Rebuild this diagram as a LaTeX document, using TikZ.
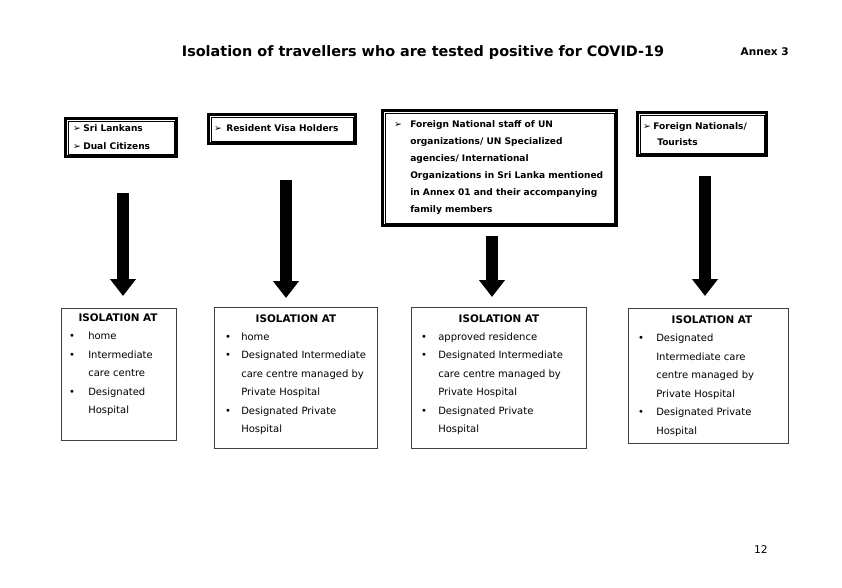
\documentclass[tikz,border=0pt]{standalone}
\usepackage{fontspec}
\setmainfont{DejaVu Sans}
\usetikzlibrary{fit,arrows.meta}
\begin{document}
\begin{tikzpicture}[x=0.75pt,y=-0.75pt,
  ttl/.style={inner sep=0pt,anchor=base,font=\bfseries\fontsize{10.8}{13}\selectfont},
  anx/.style={inner sep=0pt,anchor=base east,font=\bfseries\fontsize{7.9}{10}\selectfont},
  pg/.style={inner sep=0pt,anchor=base east,font=\fontsize{8}{10}\selectfont},
  topbox/.style={draw,line width=2.2pt,inner sep=0pt},
  innerframe/.style={draw,line width=0.6pt},
  botbox/.style={draw=black!75,line width=0.7pt,inner sep=0pt},
  btxt/.style={inner sep=0pt,anchor=base west,font=\bfseries\fontsize{6.8}{8}\selectfont},
  arw/.style={inner sep=0pt,anchor=base,font=\fontsize{7}{8}\selectfont},
  bttl/.style={inner sep=0pt,anchor=base,font=\bfseries\fontsize{7.8}{9}\selectfont},
  txt/.style={inner sep=0pt,anchor=base west,font=\fontsize{7.5}{9}\selectfont},
  dot/.style={inner sep=0pt,anchor=base,font=\fontsize{7.5}{9}\selectfont},
  bigarrow/.style={line width=9pt,-{Triangle[length=12.75pt,width=18.75pt]}}
]
\useasboundingbox (0,0) rectangle (842,588);
\fill[white] (0,0) rectangle (842,588);

\node[ttl] (title) at (423,57) {Isolation of travellers who are tested positive for COVID-19};
\node[anx] (annex) at (789,56) {Annex 3};
\node[pg] (page) at (768,553) {12};

% top boxes
\node[topbox,fit={(65.5,118.5) (176.5,156.5)}] (t1) {};
\draw[innerframe] ([shift={(4,4)}]t1.north west) rectangle ([shift={(-4,-4)}]t1.south east);
\node[topbox,fit={(208.5,114.5) (355.5,143.5)}] (t2) {};
\draw[innerframe] ([shift={(4,4)}]t2.north west) rectangle ([shift={(-4,-4)}]t2.south east);
\node[topbox,fit={(382.5,110.5) (616.5,225.5)}] (t3) {};
\draw[innerframe] ([shift={(4,4)}]t3.north west) rectangle ([shift={(-4,-4)}]t3.south east);
\node[topbox,fit={(637.5,112.5) (766.5,155.5)}] (t4) {};
\draw[innerframe] ([shift={(4,4)}]t4.north west) rectangle ([shift={(-4,-4)}]t4.south east);

\node[arw] (t1b1) at (77,131.5) {➢};
\node[btxt] (t1l1) at (83,131.5) {Sri Lankans};
\node[arw] (t1b2) at (77,149.5) {➢};
\node[btxt] (t1l2) at (83,149.5) {Dual Citizens};

\node[arw] (t2b1) at (218,131.5) {➢};
\node[btxt] (t2l1) at (226,131.5) {Resident Visa Holders};

\node[arw] (t3b1) at (398,127.5) {➢};
\foreach \t [count=\i] in {Foreign National staff of UN, organizations/ UN Specialized, agencies/ International, Organizations in Sri Lanka mentioned, in Annex 01 and their accompanying, family members}
  \node[btxt] (t3l\i) at (410,{127.5+16.9*(\i-1)}) {\t};

\node[arw] (t4b1) at (647,129.5) {➢};
\node[btxt] (t4l1) at (653,129.5) {Foreign Nationals/};
\node[btxt] (t4l2) at (657,145.5) {Tourists};

% bottom boxes
\node[botbox,fit={(61,308) (176,440)}] (b1) {};
\node[botbox,fit={(214,307) (377,448)}] (b2) {};
\node[botbox,fit={(411,307) (586,448)}] (b3) {};
\node[botbox,fit={(628,308) (788,443)}] (b4) {};

\node[bttl] (b1t) at (118,321) {ISOLATI0N AT};
\node[bttl] (b2t) at (296,322) {ISOLATION AT};
\node[bttl] (b3t) at (499,322) {ISOLATION AT};
\node[bttl] (b4t) at (712,323) {ISOLATION AT};

\foreach \t/\b [count=\i] in {home/1, Intermediate/1, care centre/0, Designated/1, Hospital/0}{
  \node[txt] (b1l\i) at (88,{339.5+18.5*(\i-1)}) {\t};
  \ifnum\b=1 \node[dot] (b1d\i) at (72,{339.5+18.5*(\i-1)}) {•};\fi
}
\foreach \t/\b [count=\i] in {home/1, Designated Intermediate/1, care centre managed by/0, Private Hospital/0, Designated Private/1, Hospital/0}{
  \node[txt] (b2l\i) at (241,{340.5+18.4*(\i-1)}) {\t};
  \ifnum\b=1 \node[dot] (b2d\i) at (228,{340.5+18.4*(\i-1)}) {•};\fi
}
\foreach \t/\b [count=\i] in {approved residence/1, Designated Intermediate/1, care centre managed by/0, Private Hospital/0, Designated Private/1, Hospital/0}{
  \node[txt] (b3l\i) at (438,{340.5+18.4*(\i-1)}) {\t};
  \ifnum\b=1 \node[dot] (b3d\i) at (424,{340.5+18.4*(\i-1)}) {•};\fi
}
\foreach \t/\b [count=\i] in {Designated/1, Intermediate care/0, centre managed by/0, Private Hospital/0, Designated Private/1, Hospital/0}{
  \node[txt] (b4l\i) at (656,{341.5+18.6*(\i-1)}) {\t};
  \ifnum\b=1 \node[dot] (b4d\i) at (641,{341.5+18.6*(\i-1)}) {•};\fi
}

% arrows
\coordinate (a1s) at (123,193); \coordinate (a1e) at (123,296);
\coordinate (a2s) at (286,180); \coordinate (a2e) at (286,298);
\coordinate (a3s) at (492,236); \coordinate (a3e) at (492,297);
\coordinate (a4s) at (705,176); \coordinate (a4e) at (705,296);
\draw[bigarrow] (a1s) -- (a1e);
\draw[bigarrow] (a2s) -- (a2e);
\draw[bigarrow] (a3s) -- (a3e);
\draw[bigarrow] (a4s) -- (a4e);
\end{tikzpicture}
\end{document}
